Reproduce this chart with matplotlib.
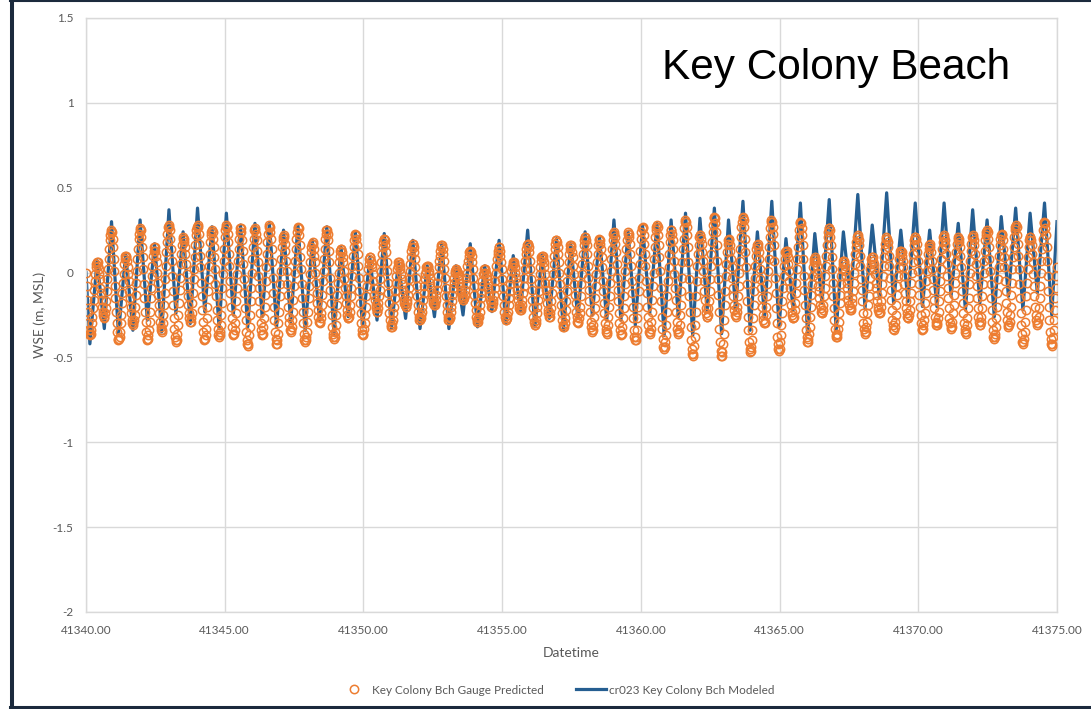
import numpy as np
import matplotlib
matplotlib.use("Agg")
import matplotlib.pyplot as plt
from matplotlib.lines import Line2D
from matplotlib.ticker import FuncFormatter

# Day offsets (from 41340) of successive modeled tidal lows / highs
extreme_day = [
    0.14, 0.40, 0.66, 0.92, 1.17, 1.43, 1.69, 1.95, 2.21, 2.47,
    2.73, 2.99, 3.24, 3.50, 3.76, 4.02, 4.28, 4.54, 4.80, 5.06,
    5.31, 5.57, 5.83, 6.09, 6.35, 6.61, 6.87, 7.12, 7.38, 7.64,
    7.90, 8.16, 8.42, 8.68, 8.94, 9.19, 9.45, 9.71, 9.97, 10.23,
    10.49, 10.75, 11.01, 11.26, 11.52, 11.78, 12.04, 12.30, 12.56, 12.82,
    13.08, 13.33, 13.59, 13.85, 14.11, 14.37, 14.63, 14.89, 15.14, 15.40,
    15.66, 15.92, 16.18, 16.44, 16.70, 16.96, 17.21, 17.47, 17.73, 17.99,
    18.25, 18.51, 18.77, 19.03, 19.28, 19.54, 19.80, 20.06, 20.32, 20.58,
    20.84, 21.09, 21.35, 21.61, 21.87, 22.13, 22.39, 22.65, 22.91, 23.16,
    23.42, 23.68, 23.94, 24.20, 24.46, 24.72, 24.98, 25.23, 25.49, 25.75,
    26.01, 26.27, 26.53, 26.79, 27.04, 27.30, 27.56, 27.82, 28.08, 28.34,
    28.60, 28.86, 29.11, 29.37, 29.63, 29.89, 30.15, 30.41, 30.67, 30.93,
    31.18, 31.44, 31.70, 31.96, 32.22, 32.48, 32.74, 32.99, 33.25, 33.51,
    33.77, 34.03, 34.29, 34.55, 34.81,
]

# Modeled water surface elevation at each low / high (m, MSL)
modeled_wse = [
    -0.42, 0.07, -0.33, 0.30, -0.36, 0.11, -0.34, 0.31, -0.28, 0.17,
    -0.35, 0.37, -0.24, 0.24, -0.30, 0.38, -0.23, 0.27, -0.33, 0.35,
    -0.25, 0.28, -0.32, 0.29, -0.26, 0.29, -0.32, 0.25, -0.29, 0.28,
    -0.34, 0.19, -0.28, 0.27, -0.36, 0.15, -0.26, 0.24, -0.32, 0.09,
    -0.28, 0.23, -0.33, 0.06, -0.27, 0.19, -0.33, 0.04, -0.26, 0.17,
    -0.33, 0.04, -0.25, 0.17, -0.32, 0.04, -0.23, 0.19, -0.30, 0.10,
    -0.23, 0.25, -0.32, 0.11, -0.27, 0.20, -0.34, 0.17, -0.27, 0.24,
    -0.25, 0.21, -0.28, 0.31, -0.28, 0.24, -0.31, 0.28, -0.24, 0.29,
    -0.37, 0.31, -0.26, 0.35, -0.37, 0.32, -0.22, 0.38, -0.36, 0.31,
    -0.22, 0.42, -0.34, 0.24, -0.26, 0.42, -0.32, 0.20, -0.22, 0.41,
    -0.36, 0.23, -0.18, 0.43, -0.34, 0.24, -0.16, 0.46, -0.21, 0.28,
    -0.15, 0.47, -0.18, 0.25, -0.17, 0.41, -0.20, 0.25, -0.20, 0.41,
    -0.14, 0.29, -0.22, 0.37, -0.18, 0.31, -0.26, 0.33, -0.14, 0.38,
    -0.22, 0.35, -0.12, 0.41, -0.25,
]
modeled_start = 0.0   # value at 41340.00
modeled_end = 0.30    # value at 41375.00

# Gauge predicted water surface elevation, half-hourly from 41340.00 (m, MSL)
gauge_wse = [
    0.00, -0.08, -0.16, -0.23, -0.30, -0.34, -0.36,
    -0.37, -0.36, -0.34, -0.30, -0.26, -0.21, -0.16, -0.10, -0.05, -0.01, 0.03, 0.05, 0.06,
    0.06, 0.04, 0.02, -0.01, -0.04, -0.09, -0.12, -0.16, -0.20, -0.23, -0.25, -0.27,
    -0.26, -0.24, -0.21, -0.17, -0.11, -0.04, 0.02, 0.08, 0.14, 0.19, 0.22, 0.24,
    0.25, 0.24, 0.20, 0.15, 0.08, 0.01, -0.08, -0.15, -0.23, -0.30, -0.35, -0.39, -0.40,
    -0.39, -0.38, -0.35, -0.30, -0.25, -0.18, -0.12, -0.06, -0.01, 0.05, 0.08, 0.10,
    0.10, 0.09, 0.07, 0.03, -0.01, -0.05, -0.11, -0.15, -0.20, -0.24, -0.28, -0.30, -0.31,
    -0.30, -0.28, -0.25, -0.20, -0.13, -0.06, 0.01, 0.08, 0.14, 0.20, 0.23, 0.25,
    0.26, 0.25, 0.21, 0.15, 0.09, 0.02, -0.07, -0.15, -0.23, -0.29, -0.35, -0.39, -0.40,
    -0.39, -0.37, -0.34, -0.29, -0.23, -0.15, -0.09, -0.02, 0.04, 0.10, 0.13, 0.15,
    0.15, 0.13, 0.10, 0.06, 0.00, -0.06, -0.13, -0.19, -0.24, -0.29, -0.32, -0.34,
    -0.35, -0.34, -0.30, -0.25, -0.19, -0.12, -0.04, 0.04, 0.12, 0.18, 0.23, 0.27, 0.28,
    0.27, 0.25, 0.20, 0.14, 0.07, -0.02, -0.11, -0.19, -0.27, -0.33, -0.38, -0.40,
    -0.41, -0.40, -0.36, -0.31, -0.25, -0.18, -0.10, -0.03, 0.05, 0.11, 0.16, 0.20, 0.21,
    0.20, 0.18, 0.15, 0.11, 0.05, -0.01, -0.08, -0.14, -0.19, -0.24, -0.27, -0.29,
    -0.29, -0.27, -0.24, -0.18, -0.12, -0.04, 0.02, 0.09, 0.16, 0.22, 0.25, 0.27,
    0.28, 0.27, 0.23, 0.17, 0.10, 0.03, -0.06, -0.14, -0.22, -0.29, -0.35, -0.39, -0.40,
    -0.39, -0.37, -0.33, -0.27, -0.20, -0.11, -0.04, 0.04, 0.11, 0.18, 0.22, 0.24,
    0.25, 0.24, 0.20, 0.15, 0.09, 0.02, -0.07, -0.14, -0.22, -0.28, -0.33, -0.37, -0.38,
    -0.37, -0.35, -0.31, -0.25, -0.18, -0.09, -0.01, 0.07, 0.14, 0.21, 0.25, 0.27,
    0.28, 0.27, 0.23, 0.18, 0.11, 0.04, -0.05, -0.12, -0.20, -0.27, -0.32, -0.36, -0.37,
    -0.36, -0.34, -0.30, -0.24, -0.17, -0.09, -0.01, 0.07, 0.14, 0.20, 0.24, 0.26,
    0.26, 0.24, 0.19, 0.13, 0.05, -0.04, -0.12, -0.21, -0.28, -0.35, -0.40, -0.42,
    -0.43, -0.42, -0.37, -0.32, -0.25, -0.17, -0.09, 0.00, 0.08, 0.15, 0.20, 0.25, 0.26,
    0.25, 0.23, 0.19, 0.13, 0.06, -0.02, -0.09, -0.17, -0.24, -0.30, -0.34, -0.36,
    -0.37, -0.36, -0.32, -0.27, -0.20, -0.13, -0.05, 0.03, 0.11, 0.18, 0.23, 0.27, 0.28,
    0.27, 0.24, 0.20, 0.14, 0.06, -0.03, -0.12, -0.20, -0.28, -0.35, -0.39, -0.42,
    -0.42, -0.40, -0.36, -0.30, -0.23, -0.14, -0.07, 0.01, 0.08, 0.15, 0.19, 0.21,
    0.22, 0.21, 0.17, 0.13, 0.07, 0.01, -0.07, -0.13, -0.20, -0.26, -0.30, -0.34, -0.35,
    -0.34, -0.32, -0.28, -0.23, -0.16, -0.08, 0.00, 0.07, 0.14, 0.20, 0.24, 0.26,
    0.27, 0.26, 0.22, 0.16, 0.09, 0.02, -0.07, -0.15, -0.23, -0.30, -0.36, -0.40, -0.41,
    -0.40, -0.38, -0.35, -0.29, -0.23, -0.15, -0.08, -0.01, 0.06, 0.12, 0.15, 0.17,
    0.18, 0.17, 0.14, 0.10, 0.06, 0.00, -0.06, -0.12, -0.18, -0.22, -0.26, -0.29, -0.30,
    -0.29, -0.27, -0.24, -0.19, -0.13, -0.05, 0.01, 0.08, 0.14, 0.20, 0.23, 0.25,
    0.25, 0.23, 0.19, 0.13, 0.06, -0.03, -0.10, -0.18, -0.25, -0.32, -0.36, -0.38,
    -0.39, -0.38, -0.35, -0.31, -0.25, -0.19, -0.13, -0.06, 0.00, 0.06, 0.10, 0.13, 0.14,
    0.14, 0.12, 0.09, 0.06, 0.01, -0.04, -0.09, -0.14, -0.18, -0.22, -0.25, -0.27,
    -0.27, -0.26, -0.23, -0.19, -0.14, -0.09, -0.02, 0.04, 0.10, 0.15, 0.19, 0.22, 0.23,
    0.22, 0.20, 0.16, 0.11, 0.04, -0.03, -0.11, -0.18, -0.24, -0.30, -0.34, -0.36,
    -0.37, -0.36, -0.33, -0.30, -0.25, -0.20, -0.14, -0.08, -0.03, 0.02, 0.05, 0.08, 0.09,
    0.09, 0.07, 0.05, 0.03, -0.01, -0.05, -0.09, -0.13, -0.16, -0.19, -0.21, -0.23,
    -0.23, -0.21, -0.18, -0.14, -0.10, -0.04, 0.01, 0.06, 0.11, 0.15, 0.18, 0.20,
    0.20, 0.19, 0.16, 0.12, 0.06, 0.01, -0.06, -0.12, -0.18, -0.24, -0.28, -0.31, -0.32,
    -0.32, -0.30, -0.28, -0.24, -0.20, -0.15, -0.11, -0.06, -0.02, 0.02, 0.04, 0.06,
    0.06, 0.05, 0.04, 0.02, -0.01, -0.04, -0.07, -0.10, -0.13, -0.16, -0.18, -0.19, -0.20,
    -0.20, -0.18, -0.16, -0.13, -0.09, -0.04, 0.01, 0.05, 0.09, 0.13, 0.15, 0.17,
    0.17, 0.15, 0.12, 0.08, 0.03, -0.03, -0.08, -0.14, -0.19, -0.23, -0.26, -0.28,
    -0.28, -0.27, -0.25, -0.23, -0.20, -0.16, -0.12, -0.08, -0.04, -0.01, 0.01, 0.03, 0.04,
    0.04, 0.03, 0.01, -0.01, -0.03, -0.06, -0.09, -0.12, -0.14, -0.16, -0.18, -0.19,
    -0.19, -0.18, -0.16, -0.13, -0.10, -0.06, -0.02, 0.03, 0.07, 0.10, 0.13, 0.15, 0.16,
    0.16, 0.14, 0.11, 0.07, 0.02, -0.03, -0.09, -0.14, -0.19, -0.23, -0.26, -0.28,
    -0.28, -0.27, -0.26, -0.23, -0.20, -0.17, -0.13, -0.09, -0.06, -0.03, 0.00, 0.01, 0.02,
    0.02, 0.01, 0.00, -0.02, -0.04, -0.06, -0.08, -0.10, -0.12, -0.14, -0.15, -0.16,
    -0.16, -0.15, -0.13, -0.10, -0.07, -0.03, 0.00, 0.04, 0.07, 0.10, 0.12, 0.13,
    0.13, 0.12, 0.10, 0.06, 0.02, -0.03, -0.08, -0.13, -0.18, -0.22, -0.26, -0.28, -0.29,
    -0.29, -0.27, -0.26, -0.23, -0.19, -0.15, -0.12, -0.08, -0.05, -0.01, 0.00, 0.02,
    0.02, 0.02, 0.00, -0.02, -0.04, -0.06, -0.09, -0.12, -0.14, -0.16, -0.18, -0.20, -0.20,
    -0.20, -0.18, -0.16, -0.13, -0.09, -0.05, 0.00, 0.04, 0.08, 0.11, 0.13, 0.15,
    0.15, 0.13, 0.10, 0.06, 0.02, -0.04, -0.09, -0.14, -0.19, -0.23, -0.26, -0.28,
    -0.28, -0.27, -0.25, -0.23, -0.19, -0.15, -0.11, -0.07, -0.03, 0.01, 0.03, 0.05, 0.06,
    0.06, 0.05, 0.03, 0.00, -0.03, -0.06, -0.10, -0.13, -0.16, -0.19, -0.21, -0.22,
    -0.22, -0.21, -0.19, -0.16, -0.12, -0.08, -0.03, 0.02, 0.07, 0.11, 0.14, 0.16, 0.17,
    0.17, 0.15, 0.12, 0.07, 0.02, -0.04, -0.10, -0.16, -0.21, -0.26, -0.29, -0.31,
    -0.31, -0.30, -0.28, -0.24, -0.20, -0.16, -0.11, -0.06, -0.01, 0.03, 0.07, 0.09, 0.10,
    0.10, 0.08, 0.06, 0.03, -0.01, -0.06, -0.10, -0.14, -0.18, -0.22, -0.24, -0.26,
    -0.26, -0.24, -0.21, -0.17, -0.12, -0.06, -0.01, 0.05, 0.10, 0.14, 0.17, 0.19,
    0.19, 0.18, 0.15, 0.11, 0.06, 0.00, -0.07, -0.13, -0.19, -0.24, -0.28, -0.31, -0.32,
    -0.32, -0.30, -0.27, -0.22, -0.17, -0.11, -0.05, 0.01, 0.06, 0.11, 0.14, 0.16,
    0.16, 0.15, 0.12, 0.09, 0.04, -0.01, -0.07, -0.13, -0.18, -0.23, -0.26, -0.29, -0.30,
    -0.29, -0.27, -0.24, -0.20, -0.14, -0.07, -0.01, 0.05, 0.11, 0.16, 0.19, 0.21,
    0.21, 0.19, 0.16, 0.11, 0.04, -0.03, -0.10, -0.17, -0.23, -0.29, -0.32, -0.34,
    -0.35, -0.34, -0.31, -0.26, -0.21, -0.15, -0.08, -0.01, 0.06, 0.11, 0.16, 0.19, 0.20,
    0.19, 0.17, 0.14, 0.09, 0.03, -0.05, -0.11, -0.18, -0.24, -0.30, -0.33, -0.35,
    -0.36, -0.35, -0.31, -0.26, -0.20, -0.14, -0.06, 0.01, 0.08, 0.14, 0.19, 0.23, 0.24,
    0.23, 0.21, 0.17, 0.12, 0.05, -0.03, -0.10, -0.17, -0.24, -0.30, -0.34, -0.36,
    -0.37, -0.36, -0.32, -0.27, -0.21, -0.14, -0.07, 0.01, 0.08, 0.14, 0.19, 0.23, 0.24,
    0.23, 0.21, 0.17, 0.11, 0.04, -0.05, -0.12, -0.20, -0.27, -0.34, -0.38, -0.40,
    -0.40, -0.38, -0.34, -0.27, -0.20, -0.11, -0.03, 0.05, 0.13, 0.20, 0.24, 0.26,
    0.27, 0.26, 0.22, 0.17, 0.11, 0.04, -0.05, -0.12, -0.20, -0.26, -0.31, -0.35, -0.36,
    -0.35, -0.33, -0.29, -0.23, -0.16, -0.08, 0.00, 0.08, 0.15, 0.21, 0.25, 0.27,
    0.28, 0.27, 0.22, 0.16, 0.09, 0.01, -0.09, -0.17, -0.26, -0.33, -0.39, -0.44, -0.45,
    -0.44, -0.41, -0.37, -0.31, -0.23, -0.14, -0.05, 0.03, 0.11, 0.18, 0.22, 0.25,
    0.25, 0.23, 0.19, 0.14, 0.07, -0.01, -0.09, -0.16, -0.23, -0.29, -0.33, -0.35,
    -0.36, -0.35, -0.31, -0.25, -0.19, -0.11, -0.03, 0.06, 0.14, 0.20, 0.26, 0.30, 0.31,
    0.30, 0.27, 0.22, 0.15, 0.06, -0.04, -0.14, -0.23, -0.32, -0.40, -0.45, -0.48,
    -0.49, -0.48, -0.43, -0.38, -0.31, -0.23, -0.14, -0.05, 0.04, 0.11, 0.16, 0.21, 0.22,
    0.22, 0.20, 0.17, 0.12, 0.07, 0.01, -0.05, -0.11, -0.16, -0.21, -0.24, -0.26,
    -0.26, -0.25, -0.21, -0.17, -0.11, -0.04, 0.04, 0.11, 0.18, 0.24, 0.28, 0.32, 0.33,
    0.32, 0.29, 0.24, 0.16, 0.07, -0.04, -0.13, -0.23, -0.33, -0.41, -0.46, -0.49,
    -0.49, -0.47, -0.42, -0.36, -0.28, -0.19, -0.11, -0.02, 0.05, 0.12, 0.17, 0.19,
    0.20, 0.19, 0.16, 0.13, 0.08, 0.03, -0.03, -0.09, -0.14, -0.19, -0.22, -0.25, -0.26,
    -0.25, -0.23, -0.20, -0.14, -0.08, 0.00, 0.07, 0.14, 0.21, 0.27, 0.30, 0.32,
    0.33, 0.31, 0.27, 0.20, 0.12, 0.03, -0.07, -0.17, -0.26, -0.34, -0.41, -0.45, -0.47,
    -0.46, -0.44, -0.40, -0.34, -0.27, -0.19, -0.11, -0.03, 0.04, 0.10, 0.14, 0.16,
    0.17, 0.15, 0.12, 0.08, 0.02, -0.04, -0.09, -0.15, -0.20, -0.25, -0.28, -0.30,
    -0.30, -0.29, -0.25, -0.20, -0.14, -0.07, 0.01, 0.08, 0.15, 0.21, 0.26, 0.30, 0.31,
    0.30, 0.27, 0.23, 0.16, 0.07, -0.03, -0.12, -0.21, -0.30, -0.38, -0.42, -0.45,
    -0.46, -0.45, -0.41, -0.37, -0.31, -0.24, -0.17, -0.09, -0.02, 0.04, 0.08, 0.12, 0.13,
    0.13, 0.11, 0.09, 0.05, 0.01, -0.05, -0.09, -0.14, -0.19, -0.23, -0.25, -0.27,
    -0.27, -0.26, -0.22, -0.18, -0.12, -0.06, 0.02, 0.08, 0.15, 0.21, 0.25, 0.29, 0.30,
    0.29, 0.26, 0.22, 0.16, 0.08, -0.02, -0.10, -0.19, -0.27, -0.34, -0.38, -0.41,
    -0.41, -0.39, -0.36, -0.32, -0.26, -0.20, -0.13, -0.07, -0.02, 0.03, 0.06, 0.08,
    0.09, 0.08, 0.06, 0.04, 0.00, -0.03, -0.08, -0.11, -0.15, -0.19, -0.21, -0.23, -0.24,
    -0.24, -0.22, -0.19, -0.14, -0.09, -0.02, 0.04, 0.10, 0.16, 0.21, 0.24, 0.26,
    0.26, 0.25, 0.21, 0.16, 0.09, 0.02, -0.06, -0.14, -0.21, -0.28, -0.33, -0.37, -0.38,
    -0.38, -0.36, -0.33, -0.29, -0.24, -0.18, -0.13, -0.07, -0.02, 0.02, 0.05, 0.07,
    0.07, 0.06, 0.04, 0.01, -0.02, -0.06, -0.09, -0.13, -0.16, -0.19, -0.21, -0.22,
    -0.22, -0.21, -0.18, -0.15, -0.11, -0.06, 0.00, 0.05, 0.11, 0.15, 0.18, 0.21, 0.22,
    0.21, 0.19, 0.16, 0.10, 0.04, -0.04, -0.10, -0.17, -0.24, -0.30, -0.33, -0.35,
    -0.36, -0.35, -0.32, -0.29, -0.24, -0.19, -0.14, -0.08, -0.03, 0.02, 0.05, 0.08, 0.09,
    0.09, 0.07, 0.05, 0.02, -0.01, -0.06, -0.09, -0.13, -0.17, -0.20, -0.22, -0.24,
    -0.24, -0.23, -0.20, -0.17, -0.12, -0.07, -0.02, 0.04, 0.09, 0.14, 0.17, 0.20, 0.21,
    0.20, 0.18, 0.15, 0.10, 0.04, -0.03, -0.10, -0.16, -0.22, -0.28, -0.31, -0.33,
    -0.34, -0.32, -0.29, -0.25, -0.19, -0.13, -0.08, -0.02, 0.03, 0.08, 0.11, 0.13,
    0.13, 0.12, 0.10, 0.07, 0.03, -0.02, -0.07, -0.12, -0.17, -0.21, -0.24, -0.26, -0.27,
    -0.27, -0.25, -0.22, -0.17, -0.12, -0.06, 0.00, 0.06, 0.11, 0.16, 0.19, 0.21,
    0.21, 0.20, 0.17, 0.12, 0.07, 0.01, -0.07, -0.13, -0.20, -0.25, -0.30, -0.33, -0.34,
    -0.33, -0.31, -0.28, -0.24, -0.18, -0.12, -0.05, 0.01, 0.06, 0.11, 0.14, 0.16,
    0.17, 0.15, 0.12, 0.07, 0.02, -0.04, -0.10, -0.16, -0.21, -0.26, -0.29, -0.31,
    -0.31, -0.30, -0.27, -0.23, -0.17, -0.11, -0.05, 0.02, 0.08, 0.14, 0.18, 0.21, 0.22,
    0.21, 0.19, 0.16, 0.11, 0.05, -0.02, -0.09, -0.15, -0.21, -0.27, -0.30, -0.32,
    -0.33, -0.32, -0.29, -0.24, -0.19, -0.13, -0.06, 0.00, 0.07, 0.12, 0.17, 0.20, 0.21,
    0.20, 0.18, 0.15, 0.10, 0.03, -0.04, -0.11, -0.18, -0.24, -0.30, -0.33, -0.35,
    -0.36, -0.35, -0.31, -0.27, -0.21, -0.15, -0.07, 0.00, 0.07, 0.13, 0.17, 0.21, 0.22,
    0.21, 0.19, 0.16, 0.11, 0.05, -0.02, -0.08, -0.15, -0.21, -0.26, -0.29, -0.31,
    -0.31, -0.29, -0.26, -0.21, -0.14, -0.07, 0.00, 0.07, 0.13, 0.19, 0.22, 0.24,
    0.25, 0.24, 0.20, 0.15, 0.08, 0.01, -0.07, -0.15, -0.22, -0.29, -0.34, -0.38, -0.39,
    -0.38, -0.36, -0.32, -0.27, -0.20, -0.12, -0.04, 0.03, 0.10, 0.16, 0.20, 0.22,
    0.23, 0.22, 0.19, 0.14, 0.09, 0.03, -0.05, -0.11, -0.18, -0.23, -0.28, -0.31, -0.32,
    -0.31, -0.29, -0.25, -0.20, -0.13, -0.06, 0.02, 0.09, 0.15, 0.21, 0.25, 0.27,
    0.28, 0.27, 0.22, 0.17, 0.10, 0.02, -0.07, -0.15, -0.24, -0.31, -0.36, -0.41, -0.42,
    -0.41, -0.39, -0.35, -0.29, -0.22, -0.14, -0.06, 0.02, 0.09, 0.15, 0.19, 0.21,
    0.21, 0.19, 0.16, 0.11, 0.06, -0.01, -0.08, -0.14, -0.20, -0.25, -0.28, -0.30,
    -0.31, -0.30, -0.26, -0.21, -0.15, -0.08, 0.00, 0.07, 0.14, 0.20, 0.25, 0.29, 0.30,
    0.29, 0.26, 0.22, 0.15, 0.07, -0.02, -0.11, -0.20, -0.28, -0.35, -0.39, -0.42,
    -0.43, -0.42, -0.38, -0.34, -0.28, -0.22, -0.15, -0.09, -0.02, 0.03,
]

day0 = 41340.0
day1 = 41375.0
x_ticks = [41340, 41345, 41350, 41355, 41360, 41365, 41370, 41375]
y_ticks = [-2, -1.5, -1, -0.5, 0, 0.5, 1, 1.5]

ORANGE = "#ED7D31"
BLUE = "#255E91"
GRID = "#D9D9D9"
TEXT = "#595959"
NAVY = "#1B2A3D"

W, H = 1091, 709
fig = plt.figure(figsize=(W / 100, H / 100), dpi=100)
ax = fig.add_axes([86 / W, 1 - 612 / H, (1057 - 86) / W, (612 - 18) / H])

# half-hourly gauge samples
t_gauge = day0 + np.arange(len(gauge_wse)) / 48.0
# modeled curve through its lows and highs
t_model = np.concatenate([[day0], day0 + np.asarray(extreme_day), [day1]])
v_model = np.concatenate([[modeled_start], modeled_wse, [modeled_end]])

ax.plot(t_model, v_model, color=BLUE, linewidth=2.3,
        solid_joinstyle="round", label="cr023 Key Colony Bch Modeled", zorder=2)
ax.plot(t_gauge, gauge_wse, linestyle="none", marker="o", markersize=6,
        markerfacecolor="none", markeredgecolor=ORANGE, markeredgewidth=1.1,
        label="Key Colony Bch Gauge Predicted", zorder=3)

ax.set_xlim(day0, day1)
ax.set_ylim(y_ticks[0], y_ticks[-1])
ax.set_xticks(x_ticks)
ax.set_yticks(y_ticks)
ax.xaxis.set_major_formatter(FuncFormatter(lambda v, p: f"{v:.2f}"))
ax.yaxis.set_major_formatter(FuncFormatter(lambda v, p: f"{v:g}"))
ax.grid(True, color=GRID, linewidth=1.0)
ax.set_axisbelow(True)
for s in ax.spines.values():
    s.set_color(GRID)
    s.set_linewidth(1.0)
ax.tick_params(length=0, labelsize=8.5, labelcolor=TEXT)
ax.tick_params(axis="y", pad=9)
ax.tick_params(axis="x", pad=9)
for lab in ax.get_xticklabels() + ax.get_yticklabels():
    lab.set_family("Lato")

ax.set_xlabel("Datetime", family="Lato", fontsize=10, color=TEXT, labelpad=8)
ax.set_ylabel("WSE (m, MSL)", family="Lato", fontsize=10, color=TEXT, labelpad=5)

fig.text(662 / W, 1 - 79 / H, "Key Colony Beach", family="Liberation Sans",
         fontsize=30.5, color="black", ha="left", va="baseline")

handles, labels = ax.get_legend_handles_labels()
order = [1, 0]
leg = fig.legend([handles[i] for i in order], [labels[i] for i in order],
                 loc="center", bbox_to_anchor=(557 / W, 1 - 690 / H), ncol=2,
                 frameon=False, prop={"family": "Lato", "size": 8.5},
                 handlelength=2.55, handletextpad=0.25, columnspacing=2.7,
                 numpoints=1)
for txt in leg.get_texts():
    txt.set_color(TEXT)

# dark frame around the chart panel
fig.add_artist(Line2D([12 / W, 12 / W], [0, 1], transform=fig.transFigure,
                      color=NAVY, linewidth=2.9))
fig.add_artist(Line2D([10 / W, 1], [1 - 1 / H, 1 - 1 / H], transform=fig.transFigure,
                      color=NAVY, linewidth=1.5))
fig.add_artist(Line2D([10 / W, 1], [1 - 706.5 / H, 1 - 706.5 / H], transform=fig.transFigure,
                      color=NAVY, linewidth=2.2))

fig.savefig("out.png", dpi=100)
